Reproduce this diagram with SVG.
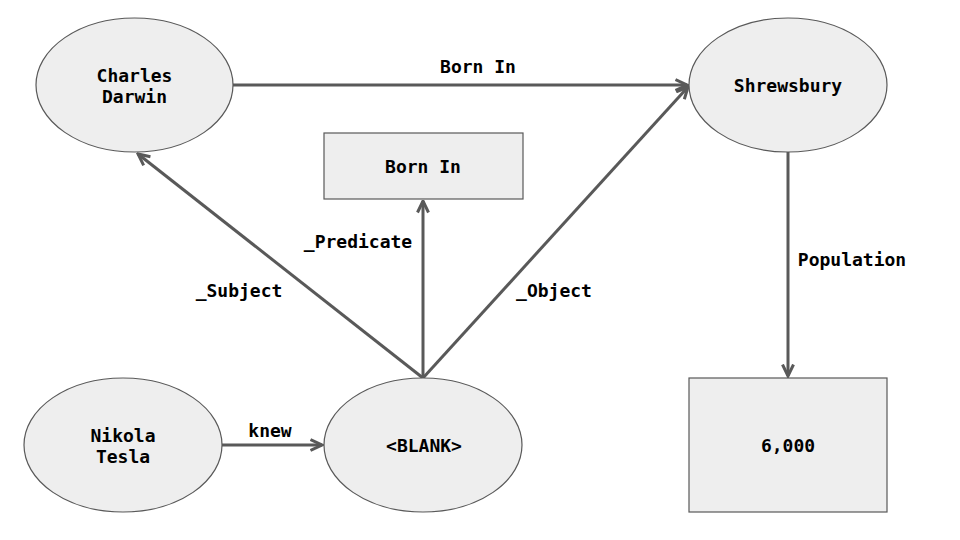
<svg xmlns="http://www.w3.org/2000/svg" width="960" height="540" viewBox="0 0 960 540">
<style>
.node{fill:#eeeeee;stroke:#595959;stroke-width:1.2}
.t{font-family:"DejaVu Sans Mono","Liberation Mono",monospace;font-weight:bold;font-size:18px;fill:#000;text-anchor:middle}
.e{stroke:#595959;stroke-width:3;fill:none;marker-end:url(#arr)}
</style>
<defs>
<marker id="arr" viewBox="0 0 14 14" markerWidth="14" markerHeight="14" refX="12.5" refY="7" orient="auto" markerUnits="userSpaceOnUse">
<path d="M1,1.5 L12.5,7 L1,12.5" fill="none" stroke="#595959" stroke-width="3" stroke-linejoin="miter"/>
</marker>
</defs>
<rect width="960" height="540" fill="#ffffff"/>
<g id="connectors">
<line class="e" x1="233" y1="85" x2="687" y2="85"/>
<text class="t" x="478" y="73">Born In</text>
<line class="e" x1="788" y1="152" x2="788" y2="376"/>
<text class="t" x="852" y="266">Population</text>
<line class="e" x1="423" y1="378" x2="138" y2="154"/>
<text class="t" x="239" y="297">_Subject</text>
<line class="e" x1="423" y1="378" x2="423" y2="201"/>
<text class="t" x="358" y="248">_Predicate</text>
<line class="e" x1="423" y1="378" x2="688" y2="87"/>
<text class="t" x="554" y="297">_Object</text>
<line class="e" x1="222" y1="445" x2="322" y2="445"/>
<text class="t" x="270" y="437">knew</text>
</g>
<g id="charles-darwin">
<ellipse class="node" cx="134.5" cy="85" rx="98.5" ry="67"/>
<text class="t" x="134.5" y="82">Charles</text>
<text class="t" x="134.5" y="103">Darwin</text>
</g>
<g id="shrewsbury">
<ellipse class="node" cx="788" cy="85" rx="99" ry="67"/>
<text class="t" x="788" y="92">Shrewsbury</text>
</g>
<g id="born-in">
<rect class="node" x="324" y="133" width="199" height="66"/>
<text class="t" x="423" y="173">Born In</text>
</g>
<g id="nikola-tesla">
<ellipse class="node" cx="123" cy="445" rx="99" ry="67"/>
<text class="t" x="123" y="442">Nikola</text>
<text class="t" x="123" y="463">Tesla</text>
</g>
<g id="blank">
<ellipse class="node" cx="423" cy="445" rx="99" ry="67"/>
<text class="t" x="424" y="452">&lt;BLANK&gt;</text>
</g>
<g id="population-value">
<rect class="node" x="689" y="378" width="198" height="134"/>
<text class="t" x="788" y="452">6,000</text>
</g>
</svg>
